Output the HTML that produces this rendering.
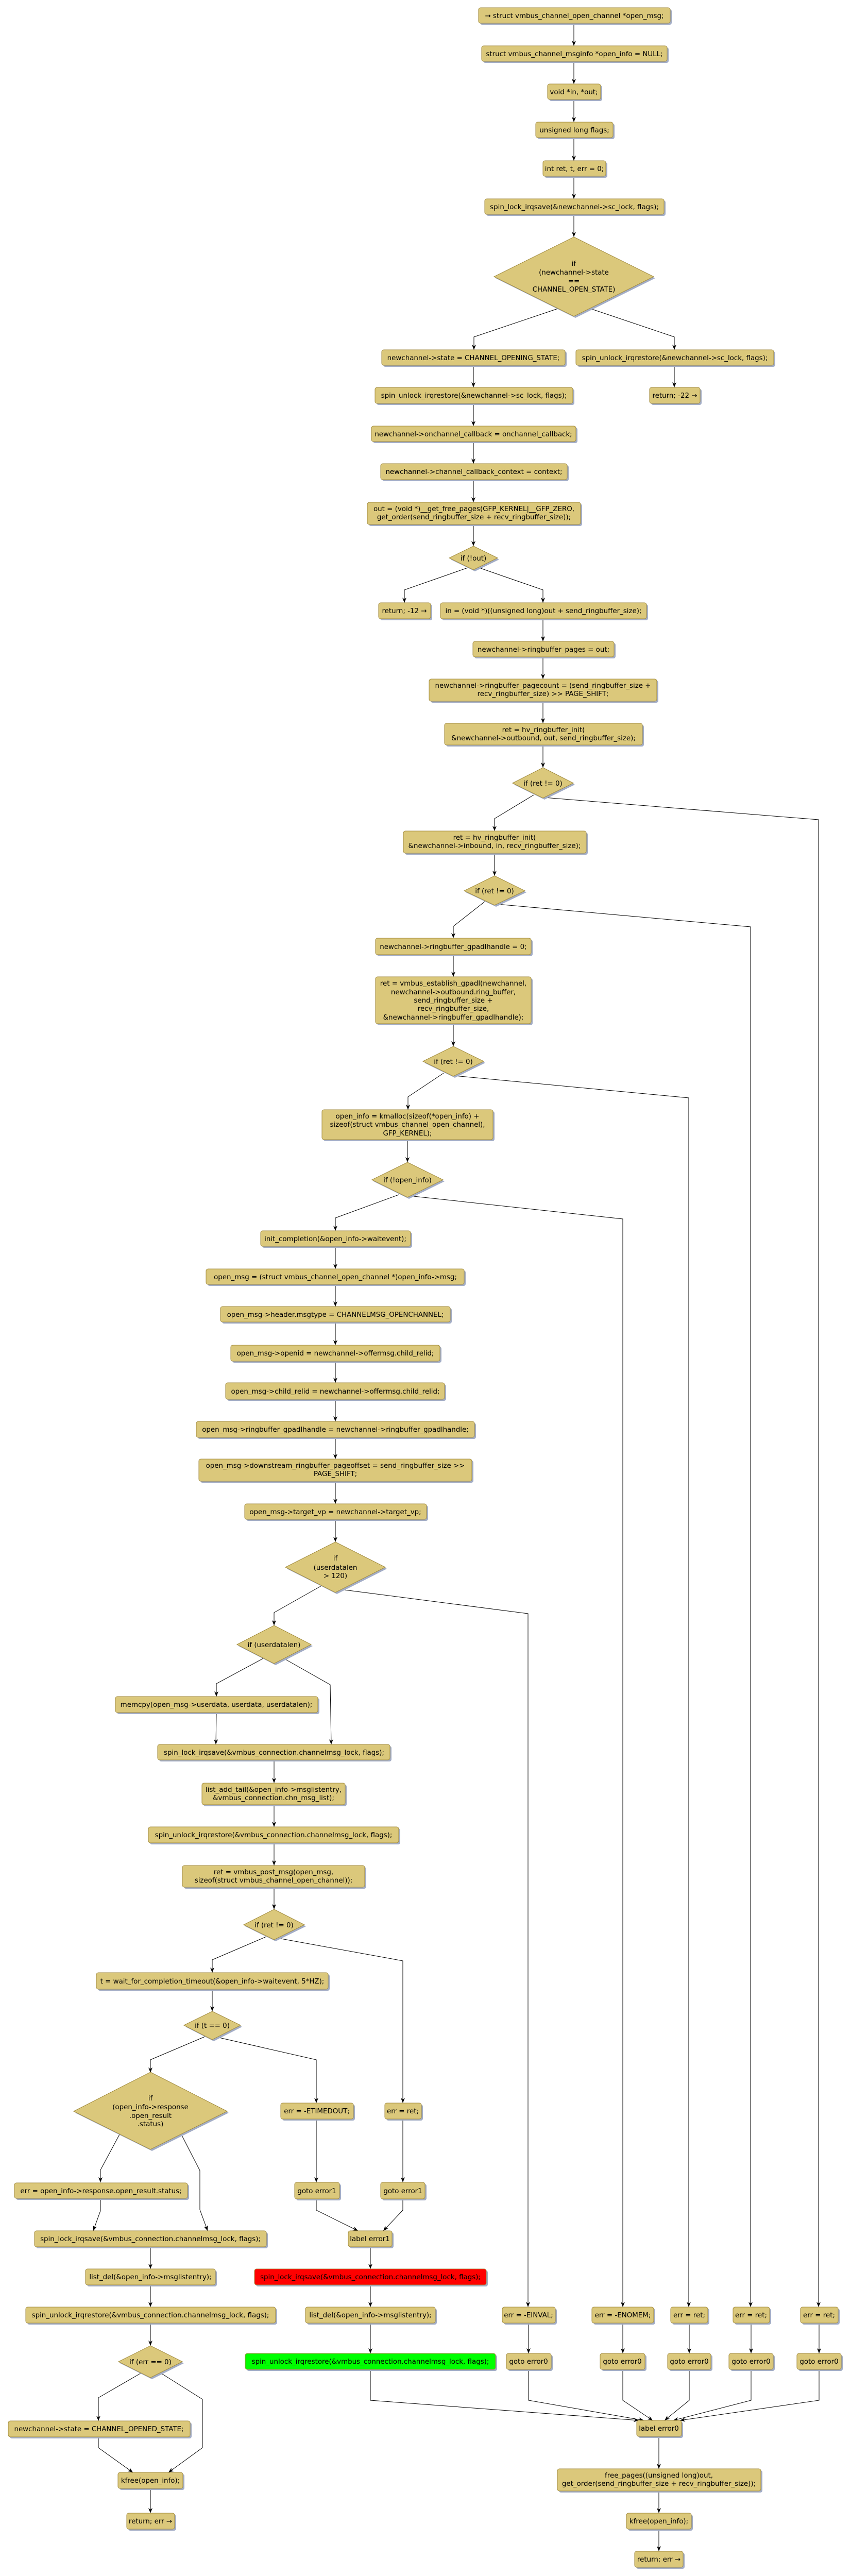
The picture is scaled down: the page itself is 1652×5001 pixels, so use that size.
<!DOCTYPE html>
<html><head><meta charset="utf-8">
<style>
html,body{margin:0;padding:0;background:#fff;width:1652px;height:5001px;overflow:hidden;}
svg{display:block;position:absolute;left:0;top:0;}
.s{fill:#a3adc6;}
.n{fill:#dbc87b;stroke:#a08a3e;stroke-width:1;}
.r{fill:#ff0000;stroke:#a08a3e;stroke-width:1;}
.g{fill:#00ff00;stroke:#a08a3e;stroke-width:1;}
text{font-family:"DejaVu Sans","Liberation Sans",sans-serif;font-size:13.4px;fill:#000;text-anchor:middle;}
.e{fill:none;stroke:#000;stroke-width:1;}
</style></head><body>
<svg width="1652" height="5001" viewBox="0 0 1652 5001" xmlns="http://www.w3.org/2000/svg">
<defs>
<marker id="a" markerWidth="10" markerHeight="10" refX="10" refY="4" orient="auto" markerUnits="userSpaceOnUse">
<path d="M0,0 L10,4 L0,8 L3,4 Z" fill="#000"/>
</marker>
</defs>

<g class="e" marker-end="url(#a)">
<polyline points="1114,45 1114,89"/>
<polyline points="1114,119 1114,163"/>
<polyline points="1114,193 1114,237"/>
<polyline points="1114,267 1114,312"/>
<polyline points="1114,342 1114,386"/>
<polyline points="1114,416 1114,460"/>
<polyline points="1083,599 920,654 920,679"/>
<polyline points="1146,599 1309,654 1309,679"/>
<polyline points="919,709 919,752"/>
<polyline points="1309,709 1309,752"/>
<polyline points="919,783 919,827"/>
<polyline points="919,857 919,900"/>
<polyline points="919,931 919,975"/>
<polyline points="919,1018 919,1060"/>
<polyline points="908,1102 785,1145 785,1170"/>
<polyline points="930,1102 1054,1145 1054,1170"/>
<polyline points="1054,1201 1054,1245"/>
<polyline points="1054,1275 1054,1318"/>
<polyline points="1054,1361 1054,1404"/>
<polyline points="1054,1446 1054,1490"/>
<polyline points="1036,1543 960,1589 960,1613"/>
<polyline points="1057,1548 1589,1591 1589,4478"/>
<polyline points="960,1656 960,1700"/>
<polyline points="941,1750 880,1798 880,1821"/>
<polyline points="965,1755 1457,1799 1457,4478"/>
<polyline points="880,1853 880,1896"/>
<polyline points="880,1987 880,2031"/>
<polyline points="861,2083 792,2129 792,2154"/>
<polyline points="883,2088 1337,2131 1337,4478"/>
<polyline points="791,2212 791,2256"/>
<polyline points="774,2319 651,2364 651,2389"/>
<polyline points="803,2322 1209,2366 1209,4478"/>
<polyline points="651,2419 651,2463"/>
<polyline points="651,2493 651,2536"/>
<polyline points="651,2566 651,2611"/>
<polyline points="651,2642 651,2684"/>
<polyline points="651,2716 651,2759"/>
<polyline points="651,2790 651,2832"/>
<polyline points="651,2875 651,2919"/>
<polyline points="651,2949 651,2993"/>
<polyline points="624,3078 532,3130 532,3155"/>
<polyline points="661,3085 1025,3132 1025,4478"/>
<polyline points="511,3219 420,3268 420,3293"/>
<polyline points="551,3219 641,3270 643,3386"/>
<polyline points="420,3324 419,3386"/>
<polyline points="532,3416 532,3461"/>
<polyline points="532,3503 532,3546"/>
<polyline points="532,3577 532,3621"/>
<polyline points="532,3663 532,3706"/>
<polyline points="517,3759 412,3804 412,3829"/>
<polyline points="540,3762 782,3806 782,4082"/>
<polyline points="412,3861 412,3904"/>
<polyline points="398,3953 292,3998 292,4023"/>
<polyline points="421,3954 614,3998 614,4082"/>
<polyline points="232,4143 195,4212 195,4236"/>
<polyline points="352,4143 388,4213 388,4289 403,4330"/>
<polyline points="195,4268 195,4291 181,4330"/>
<polyline points="614,4113 614,4236"/>
<polyline points="782,4113 782,4236"/>
<polyline points="614,4268 614,4290 695,4330"/>
<polyline points="782,4268 782,4290 744,4330"/>
<polyline points="719,4361 719,4404"/>
<polyline points="719,4435 719,4478"/>
<polyline points="719,4509 719,4568"/>
<polyline points="292,4361 292,4404"/>
<polyline points="292,4435 292,4478"/>
<polyline points="292,4509 292,4553"/>
<polyline points="274,4606 191,4654 191,4699"/>
<polyline points="312,4606 393,4657 393,4751 327,4799"/>
<polyline points="191,4730 191,4751 258,4799"/>
<polyline points="292,4830 292,4878"/>
<polyline points="1026,4509 1026,4568"/>
<polyline points="1209,4509 1209,4568"/>
<polyline points="1338,4509 1338,4568"/>
<polyline points="1458,4509 1458,4568"/>
<polyline points="1590,4509 1590,4568"/>
<polyline points="719,4599 719,4659 1240,4698"/>
<polyline points="1026,4599 1026,4659 1250,4698"/>
<polyline points="1209,4599 1209,4659 1267,4698"/>
<polyline points="1338,4599 1338,4659 1290,4698"/>
<polyline points="1458,4599 1458,4659 1307,4698"/>
<polyline points="1590,4599 1590,4659 1320,4698"/>
<polyline points="1279,4729 1279,4792"/>
<polyline points="1279,4835 1279,4878"/>
<polyline points="1279,4909 1279,4952"/>
</g>

<g>
<rect class="s" x="932" y="18" width="372" height="30" rx="4"/><rect class="n" x="929" y="15" width="372" height="30" rx="4"/><text x="1115" y="35">→ struct vmbus_channel_open_channel *open_msg;</text>
<rect class="s" x="938" y="92" width="360" height="30" rx="4"/><rect class="n" x="935" y="89" width="360" height="30" rx="4"/><text x="1115" y="109">struct vmbus_channel_msginfo *open_info = NULL;</text>
<rect class="s" x="1066" y="166" width="103" height="30" rx="4"/><rect class="n" x="1063" y="163" width="103" height="30" rx="4"/><text x="1114" y="183">void *in, *out;</text>
<rect class="s" x="1043" y="240" width="150" height="30" rx="4"/><rect class="n" x="1040" y="237" width="150" height="30" rx="4"/><text x="1115" y="257">unsigned long flags;</text>
<rect class="s" x="1057" y="315" width="122" height="30" rx="4"/><rect class="n" x="1054" y="312" width="122" height="30" rx="4"/><text x="1115" y="332">int ret, t, err = 0;</text>
<rect class="s" x="944" y="389" width="348" height="30" rx="4"/><rect class="n" x="941" y="386" width="348" height="30" rx="4"/><text x="1115" y="406">spin_lock_irqsave(&amp;newchannel-&gt;sc_lock, flags);</text>

<polygon class="s" points="1117,463 1272,540 1117,617 962,540"/><polygon class="n" points="1114,460 1269,537 1114,614 959,537"/>
<text x="1114" y="516">if</text><text x="1114" y="533">(newchannel-&gt;state</text><text x="1114" y="550">==</text><text x="1114" y="566">CHANNEL_OPEN_STATE)</text>

<rect class="s" x="744" y="682" width="356" height="30" rx="4"/><rect class="n" x="741" y="679" width="356" height="30" rx="4"/><text x="919" y="699">newchannel-&gt;state = CHANNEL_OPENING_STATE;</text>
<rect class="s" x="1121" y="682" width="384" height="30" rx="4"/><rect class="n" x="1118" y="679" width="384" height="30" rx="4"/><text x="1310" y="699">spin_unlock_irqrestore(&amp;newchannel-&gt;sc_lock, flags);</text>
<rect class="s" x="731" y="755" width="384" height="31" rx="4"/><rect class="n" x="728" y="752" width="384" height="31" rx="4"/><text x="920" y="772">spin_unlock_irqrestore(&amp;newchannel-&gt;sc_lock, flags);</text>
<rect class="s" x="1264" y="755" width="98" height="31" rx="4"/><rect class="n" x="1261" y="752" width="98" height="31" rx="4"/><text x="1310" y="772">return; -22 →</text>
<rect class="s" x="724" y="830" width="397" height="30" rx="4"/><rect class="n" x="721" y="827" width="397" height="30" rx="4"/><text x="919" y="847">newchannel-&gt;onchannel_callback = onchannel_callback;</text>
<rect class="s" x="742" y="903" width="362" height="31" rx="4"/><rect class="n" x="739" y="900" width="362" height="31" rx="4"/><text x="920" y="920">newchannel-&gt;channel_callback_context = context;</text>
<rect class="s" x="716" y="978" width="414" height="43" rx="4"/><rect class="n" x="713" y="975" width="414" height="43" rx="4"/><text x="920" y="992">out = (void *)__get_free_pages(GFP_KERNEL|__GFP_ZERO,</text><text x="920" y="1008">get_order(send_ringbuffer_size + recv_ringbuffer_size));</text>

<polygon class="s" points="922,1063 969,1086 922,1109 875,1086"/><polygon class="n" points="919,1060 966,1083 919,1106 872,1083"/><text x="919" y="1088">if (!out)</text>

<rect class="s" x="738" y="1173" width="101" height="31" rx="4"/><rect class="n" x="735" y="1170" width="101" height="31" rx="4"/><text x="785" y="1190">return; -12 →</text>
<rect class="s" x="858" y="1173" width="400" height="31" rx="4"/><rect class="n" x="855" y="1170" width="400" height="31" rx="4"/><text x="1055" y="1190">in = (void *)((unsigned long)out + send_ringbuffer_size);</text>
<rect class="s" x="921" y="1248" width="274" height="30" rx="4"/><rect class="n" x="918" y="1245" width="274" height="30" rx="4"/><text x="1055" y="1265">newchannel-&gt;ringbuffer_pages = out;</text>
<rect class="s" x="836" y="1321" width="442" height="43" rx="4"/><rect class="n" x="833" y="1318" width="442" height="43" rx="4"/><text x="1054" y="1335">newchannel-&gt;ringbuffer_pagecount = (send_ringbuffer_size +</text><text x="1054" y="1351">recv_ringbuffer_size) &gt;&gt; PAGE_SHIFT;</text>
<rect class="s" x="866" y="1407" width="384" height="42" rx="4"/><rect class="n" x="863" y="1404" width="384" height="42" rx="4"/><text x="1055" y="1421">ret = hv_ringbuffer_init(</text><text x="1055" y="1437">&amp;newchannel-&gt;outbound, out, send_ringbuffer_size);</text>

<polygon class="s" points="1057,1493 1116,1523 1057,1552 998,1523"/><polygon class="n" points="1054,1490 1113,1520 1054,1549 995,1520"/><text x="1054" y="1525">if (ret != 0)</text>

<rect class="s" x="786" y="1616" width="355" height="43" rx="4"/><rect class="n" x="783" y="1613" width="355" height="43" rx="4"/><text x="960" y="1630">ret = hv_ringbuffer_init(</text><text x="960" y="1646">&amp;newchannel-&gt;inbound, in, recv_ringbuffer_size);</text>

<polygon class="s" points="963,1703 1022,1732 963,1760 904,1732"/><polygon class="n" points="960,1700 1019,1729 960,1757 901,1729"/><text x="960" y="1734">if (ret != 0)</text>

<rect class="s" x="732" y="1824" width="302" height="32" rx="4"/><rect class="n" x="729" y="1821" width="302" height="32" rx="4"/><text x="880" y="1842">newchannel-&gt;ringbuffer_gpadlhandle = 0;</text>
<rect class="s" x="732" y="1899" width="302" height="91" rx="4"/><rect class="n" x="729" y="1896" width="302" height="91" rx="4"/>
<text x="880" y="1913">ret = vmbus_establish_gpadl(newchannel,</text><text x="880" y="1930">newchannel-&gt;outbound.ring_buffer,</text><text x="880" y="1946">send_ringbuffer_size +</text><text x="880" y="1962">recv_ringbuffer_size,</text><text x="880" y="1979">&amp;newchannel-&gt;ringbuffer_gpadlhandle);</text>

<polygon class="s" points="883,2034 942,2063 883,2092 824,2063"/><polygon class="n" points="880,2031 939,2060 880,2089 821,2060"/><text x="880" y="2065">if (ret != 0)</text>

<rect class="s" x="628" y="2157" width="332" height="58" rx="4"/><rect class="n" x="625" y="2154" width="332" height="58" rx="4"/>
<text x="791" y="2171">open_info = kmalloc(sizeof(*open_info) +</text><text x="791" y="2187">sizeof(struct vmbus_channel_open_channel),</text><text x="791" y="2204">GFP_KERNEL);</text>

<polygon class="s" points="794,2259 863,2293 794,2327 725,2293"/><polygon class="n" points="791,2256 860,2290 791,2324 722,2290"/><text x="791" y="2295">if (!open_info)</text>

<rect class="s" x="509" y="2392" width="291" height="30" rx="4"/><rect class="n" x="506" y="2389" width="291" height="30" rx="4"/><text x="651" y="2409">init_completion(&amp;open_info-&gt;waitevent);</text>
<rect class="s" x="403" y="2466" width="501" height="30" rx="4"/><rect class="n" x="400" y="2463" width="501" height="30" rx="4"/><text x="651" y="2483">open_msg = (struct vmbus_channel_open_channel *)open_info-&gt;msg;</text>
<rect class="s" x="431" y="2539" width="446" height="30" rx="4"/><rect class="n" x="428" y="2536" width="446" height="30" rx="4"/><text x="651" y="2556">open_msg-&gt;header.msgtype = CHANNELMSG_OPENCHANNEL;</text>
<rect class="s" x="451" y="2614" width="406" height="31" rx="4"/><rect class="n" x="448" y="2611" width="406" height="31" rx="4"/><text x="651" y="2631">open_msg-&gt;openid = newchannel-&gt;offermsg.child_relid;</text>
<rect class="s" x="441" y="2687" width="425" height="32" rx="4"/><rect class="n" x="438" y="2684" width="425" height="32" rx="4"/><text x="651" y="2705">open_msg-&gt;child_relid = newchannel-&gt;offermsg.child_relid;</text>
<rect class="s" x="384" y="2762" width="540" height="31" rx="4"/><rect class="n" x="381" y="2759" width="540" height="31" rx="4"/><text x="651" y="2779">open_msg-&gt;ringbuffer_gpadlhandle = newchannel-&gt;ringbuffer_gpadlhandle;</text>
<rect class="s" x="389" y="2835" width="530" height="43" rx="4"/><rect class="n" x="386" y="2832" width="530" height="43" rx="4"/><text x="651" y="2849">open_msg-&gt;downstream_ringbuffer_pageoffset = send_ringbuffer_size &gt;&gt;</text><text x="651" y="2865">PAGE_SHIFT;</text>
<rect class="s" x="478" y="2922" width="353" height="30" rx="4"/><rect class="n" x="475" y="2919" width="353" height="30" rx="4"/><text x="651" y="2939">open_msg-&gt;target_vp = newchannel-&gt;target_vp;</text>

<polygon class="s" points="654,2996 751,3045 654,3094 557,3045"/><polygon class="n" points="651,2993 748,3042 651,3091 554,3042"/>
<text x="651" y="3029">if</text><text x="651" y="3047">(userdatalen</text><text x="651" y="3063">&gt; 120)</text>

<polygon class="s" points="535,3158 607,3195 535,3232 463,3195"/><polygon class="n" points="532,3155 604,3192 532,3229 460,3192"/><text x="532" y="3197">if (userdatalen)</text>

<rect class="s" x="227" y="3296" width="393" height="31" rx="4"/><rect class="n" x="224" y="3293" width="393" height="31" rx="4"/><text x="420" y="3313">memcpy(open_msg-&gt;userdata, userdata, userdatalen);</text>
<rect class="s" x="309" y="3389" width="451" height="30" rx="4"/><rect class="n" x="306" y="3386" width="451" height="30" rx="4"/><text x="532" y="3406">spin_lock_irqsave(&amp;vmbus_connection.channelmsg_lock, flags);</text>
<rect class="s" x="395" y="3464" width="278" height="42" rx="4"/><rect class="n" x="392" y="3461" width="278" height="42" rx="4"/><text x="531" y="3478">list_add_tail(&amp;open_info-&gt;msglistentry,</text><text x="531" y="3494">&amp;vmbus_connection.chn_msg_list);</text>
<rect class="s" x="291" y="3549" width="486" height="31" rx="4"/><rect class="n" x="288" y="3546" width="486" height="31" rx="4"/><text x="531" y="3566">spin_unlock_irqrestore(&amp;vmbus_connection.channelmsg_lock, flags);</text>
<rect class="s" x="357" y="3624" width="354" height="42" rx="4"/><rect class="n" x="354" y="3621" width="354" height="42" rx="4"/><text x="531" y="3638">ret = vmbus_post_msg(open_msg,</text><text x="531" y="3654">sizeof(struct vmbus_channel_open_channel));</text>

<polygon class="s" points="535,3709 594,3739 535,3768 476,3739"/><polygon class="n" points="532,3706 591,3736 532,3765 473,3736"/><text x="532" y="3741">if (ret != 0)</text>

<rect class="s" x="190" y="3832" width="450" height="32" rx="4"/><rect class="n" x="187" y="3829" width="450" height="32" rx="4"/><text x="412" y="3850">t = wait_for_completion_timeout(&amp;open_info-&gt;waitevent, 5*HZ);</text>

<polygon class="s" points="415,3907 470,3934 415,3962 360,3934"/><polygon class="n" points="412,3904 467,3931 412,3959 357,3931"/><text x="412" y="3936">if (t == 0)</text>

<polygon class="s" points="295,4025 444,4101 295,4175 146,4101"/><polygon class="n" points="292,4022 441,4098 292,4172 143,4098"/>
<text x="292" y="4077">if</text><text x="292" y="4094">(open_info-&gt;response</text><text x="292" y="4111">.open_result</text><text x="292" y="4127">.status)</text>

<rect class="s" x="548" y="4085" width="141" height="31" rx="4"/><rect class="n" x="545" y="4082" width="141" height="31" rx="4"/><text x="615" y="4102">err = -ETIMEDOUT;</text>
<rect class="s" x="750" y="4085" width="71" height="31" rx="4"/><rect class="n" x="747" y="4082" width="71" height="31" rx="4"/><text x="782" y="4102">err = ret;</text>

<rect class="s" x="31" y="4240" width="336" height="30" rx="4"/><rect class="n" x="28" y="4237" width="336" height="30" rx="4"/><text x="196" y="4257">err = open_info-&gt;response.open_result.status;</text>
<rect class="s" x="575" y="4239" width="87" height="32" rx="4"/><rect class="n" x="572" y="4236" width="87" height="32" rx="4"/><text x="615" y="4257">goto error1</text>
<rect class="s" x="742" y="4239" width="86" height="32" rx="4"/><rect class="n" x="739" y="4236" width="86" height="32" rx="4"/><text x="782" y="4257">goto error1</text>

<rect class="s" x="70" y="4333" width="450" height="31" rx="4"/><rect class="n" x="67" y="4330" width="450" height="31" rx="4"/><text x="292" y="4350">spin_lock_irqsave(&amp;vmbus_connection.channelmsg_lock, flags);</text>
<rect class="s" x="679" y="4333" width="85" height="31" rx="4"/><rect class="n" x="676" y="4330" width="85" height="31" rx="4"/><text x="718" y="4350">label error1</text>

<rect class="s" x="169" y="4407" width="252" height="31" rx="4"/><rect class="n" x="166" y="4404" width="252" height="31" rx="4"/><text x="292" y="4424">list_del(&amp;open_info-&gt;msglistentry);</text>
<rect class="s" x="497" y="4407" width="450" height="31" rx="4"/><rect class="r" x="494" y="4404" width="450" height="31" rx="4"/><text x="719" y="4424">spin_lock_irqsave(&amp;vmbus_connection.channelmsg_lock, flags);</text>

<rect class="s" x="53" y="4481" width="485" height="31" rx="4"/><rect class="n" x="50" y="4478" width="485" height="31" rx="4"/><text x="292" y="4498">spin_unlock_irqrestore(&amp;vmbus_connection.channelmsg_lock, flags);</text>
<rect class="s" x="596" y="4481" width="252" height="31" rx="4"/><rect class="n" x="593" y="4478" width="252" height="31" rx="4"/><text x="719" y="4498">list_del(&amp;open_info-&gt;msglistentry);</text>

<rect class="s" x="978" y="4481" width="103" height="31" rx="4"/><rect class="n" x="975" y="4478" width="103" height="31" rx="4"/><text x="1026" y="4498">err = -EINVAL;</text>
<rect class="s" x="1152" y="4481" width="120" height="31" rx="4"/><rect class="n" x="1149" y="4478" width="120" height="31" rx="4"/><text x="1209" y="4498">err = -ENOMEM;</text>
<rect class="s" x="1305" y="4481" width="72" height="31" rx="4"/><rect class="n" x="1302" y="4478" width="72" height="31" rx="4"/><text x="1338" y="4498">err = ret;</text>
<rect class="s" x="1426" y="4481" width="71" height="31" rx="4"/><rect class="n" x="1423" y="4478" width="71" height="31" rx="4"/><text x="1458" y="4498">err = ret;</text>
<rect class="s" x="1557" y="4481" width="73" height="31" rx="4"/><rect class="n" x="1554" y="4478" width="73" height="31" rx="4"/><text x="1590" y="4498">err = ret;</text>

<polygon class="s" points="295,4556 357,4587 295,4618 233,4587"/><polygon class="n" points="292,4553 354,4584 292,4615 230,4584"/><text x="292" y="4589">if (err == 0)</text>

<rect class="s" x="479" y="4571" width="486" height="31" rx="4"/><rect class="g" x="476" y="4568" width="486" height="31" rx="4"/><text x="719" y="4588">spin_unlock_irqrestore(&amp;vmbus_connection.channelmsg_lock, flags);</text>
<rect class="s" x="986" y="4571" width="87" height="31" rx="4"/><rect class="n" x="983" y="4568" width="87" height="31" rx="4"/><text x="1026" y="4588">goto error0</text>
<rect class="s" x="1168" y="4571" width="87" height="31" rx="4"/><rect class="n" x="1165" y="4568" width="87" height="31" rx="4"/><text x="1208" y="4588">goto error0</text>
<rect class="s" x="1299" y="4571" width="84" height="31" rx="4"/><rect class="n" x="1296" y="4568" width="84" height="31" rx="4"/><text x="1338" y="4588">goto error0</text>
<rect class="s" x="1418" y="4571" width="86" height="31" rx="4"/><rect class="n" x="1415" y="4568" width="86" height="31" rx="4"/><text x="1458" y="4588">goto error0</text>
<rect class="s" x="1550" y="4571" width="86" height="31" rx="4"/><rect class="n" x="1547" y="4568" width="86" height="31" rx="4"/><text x="1590" y="4588">goto error0</text>

<rect class="s" x="19" y="4702" width="353" height="31" rx="4"/><rect class="n" x="16" y="4699" width="353" height="31" rx="4"/><text x="192" y="4719">newchannel-&gt;state = CHANNEL_OPENED_STATE;</text>
<rect class="s" x="1239" y="4701" width="87" height="31" rx="4"/><rect class="n" x="1236" y="4698" width="87" height="31" rx="4"/><text x="1279" y="4718">label error0</text>

<rect class="s" x="232" y="4802" width="126" height="31" rx="4"/><rect class="n" x="229" y="4799" width="126" height="31" rx="4"/><text x="292" y="4819">kfree(open_info);</text>
<rect class="s" x="1085" y="4795" width="395" height="43" rx="4"/><rect class="n" x="1082" y="4792" width="395" height="43" rx="4"/><text x="1279" y="4809">free_pages((unsigned long)out,</text><text x="1279" y="4825">get_order(send_ringbuffer_size + recv_ringbuffer_size));</text>

<rect class="s" x="249" y="4881" width="93" height="31" rx="4"/><rect class="n" x="246" y="4878" width="93" height="31" rx="4"/><text x="292" y="4898">return; err →</text>
<rect class="s" x="1219" y="4881" width="126" height="31" rx="4"/><rect class="n" x="1216" y="4878" width="126" height="31" rx="4"/><text x="1279" y="4898">kfree(open_info);</text>
<rect class="s" x="1235" y="4955" width="94" height="31" rx="4"/><rect class="n" x="1232" y="4952" width="94" height="31" rx="4"/><text x="1279" y="4972">return; err →</text>
</g>
</svg>
</body></html>
